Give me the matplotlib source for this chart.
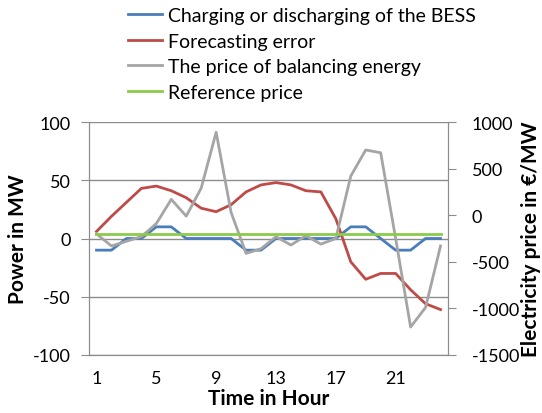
import matplotlib
matplotlib.use("Agg")
import matplotlib.pyplot as plt
from matplotlib.lines import Line2D

# data
hours = list(range(1, 25))
bess_mw = [-10, -10, 0, 0, 10, 10, 0, 0, 0, 0, -10, -10,
           0, 0, 0, 0, 0, 10, 10, 0, -10, -10, 0, 0]
forecast_err_mw = [6, 19, 31, 43, 45, 41, 35, 26, 23, 29, 40, 46,
                   48, 46, 41, 40, 17, -20, -35, -30, -30, -44, -56, -61]
balancing_price = [-200, -330, -280, -230, -90, 170, -10, 290, 890, 30, -410, -360,
                   -230, -320, -220, -310, -250, 420, 700, 670, -250, -1200, -990, -330]
reference_price = [-200] * 24

labels = ["Charging or discharging of the BESS", "Forecasting error",
          "The price of balancing energy", "Reference price"]
colors = ["#4A7EBB", "#BE4B48", "#A5A5A5", "#8CCB4A"]

plt.rcParams['font.family'] = ['Lato', 'DejaVu Sans']
plt.rcParams['axes.unicode_minus'] = False
grid_c = "#8C8C8C"
fs = 13
lfs = 15

fig = plt.figure(figsize=(5.42, 4.14), dpi=100)
ax = fig.add_axes([89 / 542, 1 - 356 / 414, 359 / 542, 233 / 414])
ax2 = ax.twinx()

x = list(range(len(hours)))
lw = 2.0
ax.plot(x, bess_mw, color=colors[0], lw=lw, zorder=3)
ax.plot(x, forecast_err_mw, color=colors[1], lw=lw, zorder=3)
ax2.plot(x, balancing_price, color=colors[2], lw=lw)
ax2.plot(x, reference_price, color=colors[3], lw=lw)

ax.set_xlim(-0.5, 23.5)
ax.set_ylim(-100, 100)
ax.set_yticks([-100, -50, 0, 50, 100])
ax2.set_ylim(-1500, 1000)
ax2.set_yticks([-1500, -1000, -500, 0, 500, 1000])
ax.set_xticks(x[::4])
ax.set_xticklabels([str(h) for h in hours[::4]])

ax.grid(True, axis="y", color=grid_c, lw=1)
ax.set_axisbelow(True)
for a in (ax, ax2):
    a.spines["top"].set_visible(False)
    for s in ("left", "right", "bottom"):
        a.spines[s].set_color(grid_c)
ax.tick_params(axis="x", length=0, pad=11, labelsize=fs)
ax.tick_params(axis="y", length=6, color=grid_c, labelsize=fs, pad=7)
ax2.tick_params(axis="y", length=6, color=grid_c, labelsize=fs, pad=11)

ax.set_xlabel("Time in Hour", fontsize=lfs, fontweight="bold", labelpad=1)
ax.set_ylabel("Power in MW", fontsize=lfs, fontweight="bold", labelpad=4)
ax2.set_ylabel("Electricity price in €/MW", fontsize=lfs, fontweight="bold", labelpad=1)

handles = [Line2D([], [], color=c, lw=2) for c in colors]
fig.legend(handles, labels, loc="upper left", bbox_to_anchor=(120 / 542, 1.0),
           frameon=False, fontsize=14, handlelength=1.75, handletextpad=0.3,
           labelspacing=0.45, borderaxespad=0.0)

fig.savefig("out.png", dpi=100)
